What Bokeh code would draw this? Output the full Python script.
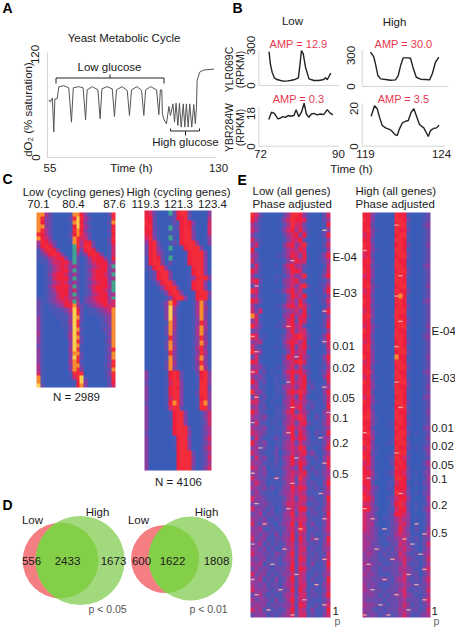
import numpy as np
from bokeh.plotting import figure
from bokeh.models import Range1d, LinearColorMapper
from bokeh.core.properties import value
from bokeh.embed import file_html
from bokeh.resources import INLINE

FONT = "Liberation Sans"
W, H = 455, 627

# ---- panel A: dissolved oxygen trace
a_time = [55.6,56.3,56.8,57.2,57.8,58.3,59.3,60.1,62.3,64.5,65.7,66.5,69,70.9,72,72.7,75,77.5,78.5,79.3,81.6,83.9,84.9,85.8,88.3,90.6,91.6,92.5,95,97,98,98.8,101,103.7,104.7,105.4,106,106.3,106.9,108.1,109.2,109.9,111,111.7,112.4,113.2,113.9,114.7,115.6,116.3,117,117.8,118.5,119.4,120.3,121,121.5,121.8,122.9,124.8,129.3]
a_do2 = [65.9,63.2,67,67.8,29,67,67,81,82,79.6,40.4,79.6,81,79.6,43,77.3,81,77.3,44.2,78.5,81,78.5,46.9,77.3,81,76.6,48,77.3,81,76.6,48,77.3,81,77.3,49,77.3,77.3,50,44,38.5,58.3,48,61.3,40.4,62.1,36.6,62.1,34.7,61.3,34.7,61.3,34.7,61.3,34.7,60.6,38.5,57.5,88,97.5,100,101]

# ---- panel B: expression traces
b_low_t1 = [74.3,74.6,75,75.5,76.1,76.9,77.6,78.4,79.1,79.9,80.9,81.2,81.6,82,82.5,83.3,84.4,85.5,86.6,87,87.4,87.9,88.2]
b_low_v1 = [291,186,114,66,51,43,37,40,43,49,66,157,300,271,157,57,43,43,51,66,49,86,106]
b_low_t2 = [74.25,74.85,75.5,76.3,76.9,77.4,78,78.6,79.1,79.9,80.4,81,81.6,82.2,82.7,83.25,83.85,84.4,85.1,85.9,86.6,87.4,88,88.65]
b_low_v2 = [12.1,15.4,14.9,12.4,12.8,13.4,13.1,13.9,13.6,13.9,16.5,13.4,15.4,19.5,14.6,13.1,14.6,14.9,14.2,14.6,14.3,16.6,15.1,14.2]
b_high_t1 = [119.52,119.73,119.83,119.98,120.15,120.46,120.77,121.08,121.25,121.4,121.56,121.81,122.02,122.17,122.38,122.65,122.96,123.21,123.38,123.58,123.79]
b_high_v1 = [300,256,198,96,67,61,55,58,96,183,250,250,247,169,81,64,61,58,111,212,256]
b_high_t2 = [119.56,119.77,119.94,120.08,120.25,120.46,120.77,121.08,121.19,121.33,121.5,121.71,121.88,122.06,122.23,122.38,122.58,122.85,123.13,123.27,123.48,123.65,123.81]
b_high_v2 = [15.4,20.7,19.2,14.9,10.6,9.4,8.4,5.8,5.5,8.9,11.8,12.8,13.2,17.4,19.2,15.7,11.1,9.4,5,8,9.2,9.4,10.8]

# ---- heatmaps: one character per cell, 0-9 = scale level, g = teal outlier
c_low = """88420000188631000027
87320000279742000017
86320000189631000028
88320000169742000016
87420000178631000027
76420000268742000016
86530000187552000027
47642000187466200026
367630000g7477300015
146763000g5267620015
124676300g3136763015
112456630g2014666316
011355663g2013566624
0012456534201245663g
001245663g2013566624
0013566524201256653g
001256663g2013566634
0012456524201245663g
001356664g201356664g
0012466635201256653g
001235663g2012456634
1012356544302356664g
211234565g4023456645
21012346684212345655
21011123596201123458
21001112497201112348
31000111398200011238
31000011497200001238
31000011397100001138
31000001398200001228
41000001497100000138
31000001498200000128
31000000397200000138
21000000398100000128
31000000497100000137
31000000388200000128
31000000397200000138
31000000487100000127
41000000388200000137
41000000387300000128
51000000177700000137
81000000157910000127
81000000016930000026
92000000016830000025"""

c_high = """652000g2677200003
66200012667200004
76200002167630005
672100g1267620005
66210011167730005
573100g1067730013
36720012167773003
267310g0016777300
26742000001677730
167620g0001677730
16773020001677730
12677300000167730
01267730000167731
01267730000136773
00136773000167730
00013677300167730
00001367730016773
00000136773016772
00001386300014830
00001394100014841
00000393100014831
00000394100013831
00000184100013741
00000284100014841
00000283100014831
00000173100013731
00000283100013841
00000284100014731
00000173100013741
00000183100014831
00000284100013731
00000283100013841
30000167620002673
30000167620001673
20000157730001773
30000167630001772
30000167730002773
30000157730001673
20000168730001783
30000157720001773
30000016773000135
30000016773000135
30000006773000125
30000016777200134
20000006777300124
30000001677200135
30000001677300124
30000001677300135
30000000677720124
30000000677730125
30000000677730124
30000000677720135"""

e_low = """75200000247763100025
64100001357665100024
42100000247552000016
53100001356463100013
31000000245636100126
52100000135562000014
35100000356357100025
61000000245465000014
43000011246536100136
52100000134655000124
25100010356442100015
64100000246651000025
41100011135347100136
56200010345632000113
24100000245357200125
75100011356451001036
34100000136546100114
65200000145363000125
42100011356475200014
52500000234536100036
85100000346356200114
35100001256265100025
74200011356452000126
23100000146355100014
65110001245675200136
34400000356546100125
52100010246256201015
74300000136455000014
25100001265364200136
65100000345675100025
34310011245252100114
55120100356564200125
42310011246256100036
64120010136456210015
34110011345356120124
73310011256575201036
25120010245264100125
55210100346454211025
34120011246563120116
64210011356254201034
43231011245575102125
25210110345256210135
43231011256454101124
54321010346264202126
25210121236465201034
63231011345253211125
34121021345475110136
53210120235456231024
25231021346254112035
43311120246465201126
54230111344263121125
23231011245456212134
53221121345274201125
35320101245254121036
43231211336465212125
24211102345454111134
53321111245255221126
32232111355454112125
53321201245366221135
23412211346254122126
43231121335455211135
52232102346264131125
33411211245375112135
43232131336254121124
52331122346264132126
23412121245254212135
43231211335255121134
53322132246254212125
32331221345265122135
43412121236254131126
24232122246265211125
52331212335254112134
33412131246254121126
43231221345255112135
53332122236264121125
23421211345255122136
42332131246254211124
34331222335265112135
53412121246254131126
23331212345255121135"""

e_high = """66310000766100012
76300000776200012
66200000677100023
67310000766200012
56300000677100012
66200000776100012
76300001676200013
66310000776100012
56200000677200012
67300000766100012
66210001776100023
76300000677200012
56300000766100012
66200000776100012
67310000677100013
56300001766200012
66200000686100012
76300000776100023
66210000676200012
56300000777100012
67300001766100012
66200000776200012
56310000677100013
76300000766100012
66200001776100023
56300000676200012
67210000776100012
66300000677200012
76300000866100013
56310001776100012
66200000677200012
67300000766100023
56210000776100012
76300000677200012
66310001766200013
67200000776100012
56300000676100023
76310000776200012
66200001677100012
67300000766200013
77310000776100012
66310011676200012
76200001766100023
67310000677201012
66400001776100013
76300011677200012
57310000766201023
66210001677100013
76300011765200012
56310002676100024
65300001766200013
66410012665201023
75310001776200014
66200011566101023
56320011666200013
65310001765201023
76410012566300014
55310002675201013
66320011566201024
54310012665300013
54320112454301013
54410012355301013
54321012364202014
44320112454301024
43321122345212023
44221012254301125
43322121345321024
34321212254212034
33221122345321125
43322112235212024
34221222244321135
43321112235322024
33222221345212135
42321112234321224
43222122245212125
33321212335321124
32222122234222135
43321212235312124
33212122244222125
42321221235311234"""

palette = ["#3a5cb8", "#4c56b4", "#6a4bab", "#8a3fa0", "#a8348e", "#d02a6a",
           "#ee2040", "#f22c3a", "#f88a30", "#f8d050", "#3fa58f"]
levels = "0123456789g"

# thin pale streaks on the E heatmaps: row, column
e_low_streak_row = [3,9,14,19,22,24,25,27,28,31,33,34,36,38,39,41,43,44,46,48,49,51,52,53,55,57,58,60,61,62,64,65,66,68,69,71,72,73,74,75,76,77,78,79]
e_low_streak_col = [18,10,1,18,9,0,18,1,11,0,9,18,1,10,19,0,9,17,2,11,18,0,6,10,17,1,9,18,3,12,16,0,8,18,5,11,0,16,7,1,13,18,4,10]
e_high_streak_row = [2,7,12,16,21,26,33,38,43,47,52,55,58,60,61,62,63,64,65,66,67,68,69,70,71,72,73,74,75,76,77,78,79,79]
e_high_streak_col = [8,0,9,8,9,8,8,9,0,8,1,9,0,2,13,5,15,10,12,3,14,7,1,15,11,5,13,2,8,15,4,11,0,6]

# ---- text
yeast_title = "Yeast Metabolic Cycle"
amp_labels = ["AMP = 12.9", "AMP = 30.0", "AMP = 0.3", "AMP = 3.5"]
venn_counts_1 = [556, 2433, 1673]
venn_counts_2 = [600, 1622, 1808]
p_labels_left = ["E-04", "E-03", "0.01", "0.02", "0.05", "0.1", "0.2", "0.5", "1"]
p_labels_right = ["E-04", "E-03", "0.01", "0.02", "0.05", "0.1", "0.2", "0.5", "1"]

p = figure(width=W, height=H, x_range=Range1d(0, W), y_range=Range1d(H, 0),
           x_axis_type=None, y_axis_type=None, toolbar_location=None,
           output_backend="svg", min_border=0, outline_line_color=None,
           background_fill_color="white")
p.grid.visible = False


def panel(name, xd, xp, yd, yp):
    """Register named ranges so data xd/yd falls on page pixels xp/yp."""
    sx = (xd[1] - xd[0]) / (xp[1] - xp[0])
    sy = (yd[1] - yd[0]) / (yp[1] - yp[0])
    p.extra_x_ranges[name] = Range1d(xd[0] - xp[0] * sx, xd[0] + (W - xp[0]) * sx)
    p.extra_y_ranges[name] = Range1d(yd[0] + (H - yp[0]) * sy, yd[0] - yp[0] * sy)
    return dict(x_range_name=name, y_range_name=name)


def label(x, y, s, size=11.5, color="#1a1a1a", align="center", angle=0.0, style="normal"):
    p.text(x=[x], y=[y], text=[s], text_font=value(FONT), text_font_size=f"{size}px",
           text_color=color, text_align=align, text_baseline="middle", angle=angle,
           text_font_style=style)


def vlabel(x, y, s, size=11.5):
    label(x, y, s, size=size, angle=np.pi / 2)


def heat(name, rows, px, py, srow=None, scol=None):
    lines = rows.split("\n")
    nc = max(len(r) for r in lines)
    arr = np.array([[levels.index(c) for c in r.ljust(nc, "2")[:nc]] for r in lines], dtype=float)
    nr = len(lines)
    kw = panel(name, (0, nc), px, (0, nr), py)
    mapper = LinearColorMapper(palette=palette, low=-0.5, high=10.5)
    p.image(image=[np.flipud(arr)], x=0, y=0, dw=nc, dh=nr, color_mapper=mapper, **kw)
    if srow is not None:
        p.rect(x=[c + 0.5 for c in scol], y=[nr - r - 0.5 for r in srow], width=1.1, height=0.26,
               fill_color="#f0a4a4", line_color=None, **kw)


AX = "#d4d4d4"


def axes(kw, x0, x1, y0, y1):
    p.segment(x0=[x0, x0], y0=[y0, y0], x1=[x1, x0], y1=[y0, y1], line_color=AX, line_width=1, **kw)


# ---- A
kwA = panel("A", (55, 130), (47, 215), (0, 120), (157, 52))
axes(kwA, 55, 130, 0, 120)
p.line(a_time, a_do2, line_color="#555555", line_width=1, **kwA)
label(2, 7, "A", 14, "black", "left", style="bold")
label(123.5, 37, yeast_title)
label(109, 66, "Low glucose")
label(185, 141, "High glucose")
vlabel(34, 54, "120")
vlabel(35, 157, "0")
vlabel(27, 109, "dO₂ (% saturation)")
label(49.5, 167, "55")
label(131, 167, "Time (h)")
label(218, 167, "130")
p.multi_line(xs=[[55.5, 55.5, 163.5, 163.5], [109.5, 109.5], [170, 170, 199, 199], [185, 185]],
             ys=[[83, 77.5, 77.5, 83], [77.5, 74], [128, 130.5, 130.5, 128], [130.5, 135]],
             line_color="#222222", line_width=1)

# ---- B
kw1 = panel("B1", (72, 90), (258.3, 338.3), (0, 300), (85, 50))
kw2 = panel("B2", (72, 90), (258.3, 338.3), (0, 18), (145.7, 106))
kw3 = panel("B3", (119, 124), (361.7, 441.7), (0, 300), (86, 51.7))
kw4 = panel("B4", (119, 124), (361.7, 441.7), (0, 20), (145.7, 106.7))
axes(kw1, 72, 90, 0, 300)
axes(kw2, 72, 90, 0, 18)
axes(kw3, 119, 124.4, 0, 320)
axes(kw4, 119, 124.2, 0, 22)
for tt, vv, kw in [(b_low_t1, b_low_v1, kw1), (b_low_t2, b_low_v2, kw2),
                   (b_high_t1, b_high_v1, kw3), (b_high_t2, b_high_v2, kw4)]:
    p.line(tt, vv, line_color="#222222", line_width=1.4, **kw)
label(232, 7, "B", 14, "black", "left", style="bold")
label(292, 20, "Low")
label(394, 21, "High")
RED = "#e8384f"
for (x, y), s in zip([(298, 43), (403, 43), (298, 98), (403, 98)], amp_labels):
    label(x, y, s, 11, RED)
vlabel(250, 45, "300")
vlabel(250, 85, "0")
vlabel(250, 113, "18")
vlabel(250, 146, "0")
vlabel(350, 55, "300")
vlabel(350, 86, "0")
vlabel(353, 108, "20")
vlabel(353, 146, "0")
vlabel(228, 69, "YLR069C", 10.5)
vlabel(239, 69, "(RPKM)", 10.5)
vlabel(228, 127, "YBR284W", 10.5)
vlabel(239, 127, "(RPKM)", 10.5)
label(260, 153, "72")
label(338, 153, "90")
label(365, 153, "119")
label(441, 153, "124")
label(351, 168, "Time (h)")

# ---- C
heat("C1", c_low, (36, 115), (387, 212))
heat("C2", c_high, (144, 211), (470, 210))
label(2, 178, "C", 14, "black", "left", style="bold")
label(73, 191.5, "Low (cycling genes)")
label(178, 191.5, "High (cycling genes)")
for x, s in [(38, "70.1"), (73, "80.4"), (114, "87.6"), (145, "119.3"), (178, "121.3"), (212, "123.4")]:
    label(x, 203, s)
label(76, 396, "N = 2989")
label(178, 481, "N = 4106")


# ---- D
def venn(rc, rr, gc, gr):
    vred, vgreen, vboth = "#f47e82", "#a2d97c", "#84cf48"
    p.circle(x=[rc[0]], y=[rc[1]], radius=rr, fill_color=vred, line_color=None)
    p.circle(x=[gc[0]], y=[gc[1]], radius=gr, fill_color=vgreen, line_color=None)
    t = np.linspace(0, 2 * np.pi, 361)
    rx, ry = rc[0] + rr * np.cos(t), rc[1] + rr * np.sin(t)
    ins = (rx - gc[0]) ** 2 + (ry - gc[1]) ** 2 <= gr ** 2
    gx, gy = gc[0] + gr * np.cos(t), gc[1] + gr * np.sin(t)
    ing = (gx - rc[0]) ** 2 + (gy - rc[1]) ** 2 <= rr ** 2
    pts = np.c_[np.r_[rx[ins], gx[ing]], np.r_[ry[ins], gy[ing]]]
    cx, cy = pts.mean(axis=0)
    order = np.argsort(np.arctan2(pts[:, 1] - cy, pts[:, 0] - cx))
    p.patch(pts[order, 0], pts[order, 1], fill_color=vboth, line_color=None)


venn((60, 560), 37.8, (79.7, 560), 44.6)
venn((164.5, 558.5), 34, (190, 558), 42)
label(2, 504, "D", 14, "black", "left", style="bold")
label(32, 519, "Low")
label(97, 511, "High")
label(138, 519, "Low")
label(206, 511, "High")
for x, s in zip([31, 67, 113], venn_counts_1):
    label(x, 560.7, str(s))
for x, s in zip([141, 172, 216], venn_counts_2):
    label(x, 560.7, str(s))
label(107, 608, "p < 0.05", 10.5, "#555555")
label(208, 608, "p < 0.01", 10.5, "#555555")

# ---- E
heat("E1", e_low, (250, 330), (617, 212), e_low_streak_row, e_low_streak_col)
heat("E2", e_high, (362, 430), (617, 212), e_high_streak_row, e_high_streak_col)
label(237, 179, "E", 14, "black", "left", style="bold")
label(252, 190, "Low (all genes)", align="left")
label(252, 203, "Phase adjusted", align="left")
label(355, 190, "High (all genes)", align="left")
label(355, 203, "Phase adjusted", align="left")
for y, s in zip([256, 292, 345, 367, 397, 417, 442, 473, 610], p_labels_left):
    label(332, y, s, align="left")
label(334, 620, "p", 10.5, "#666666", "left")
for y, s in zip([330, 377, 427, 445, 464, 478, 504, 532, 610], p_labels_right):
    label(431, y, s, align="left")
label(433, 620, "p", 10.5, "#666666", "left")

open("out.html", "w").write(file_html(p, INLINE))
